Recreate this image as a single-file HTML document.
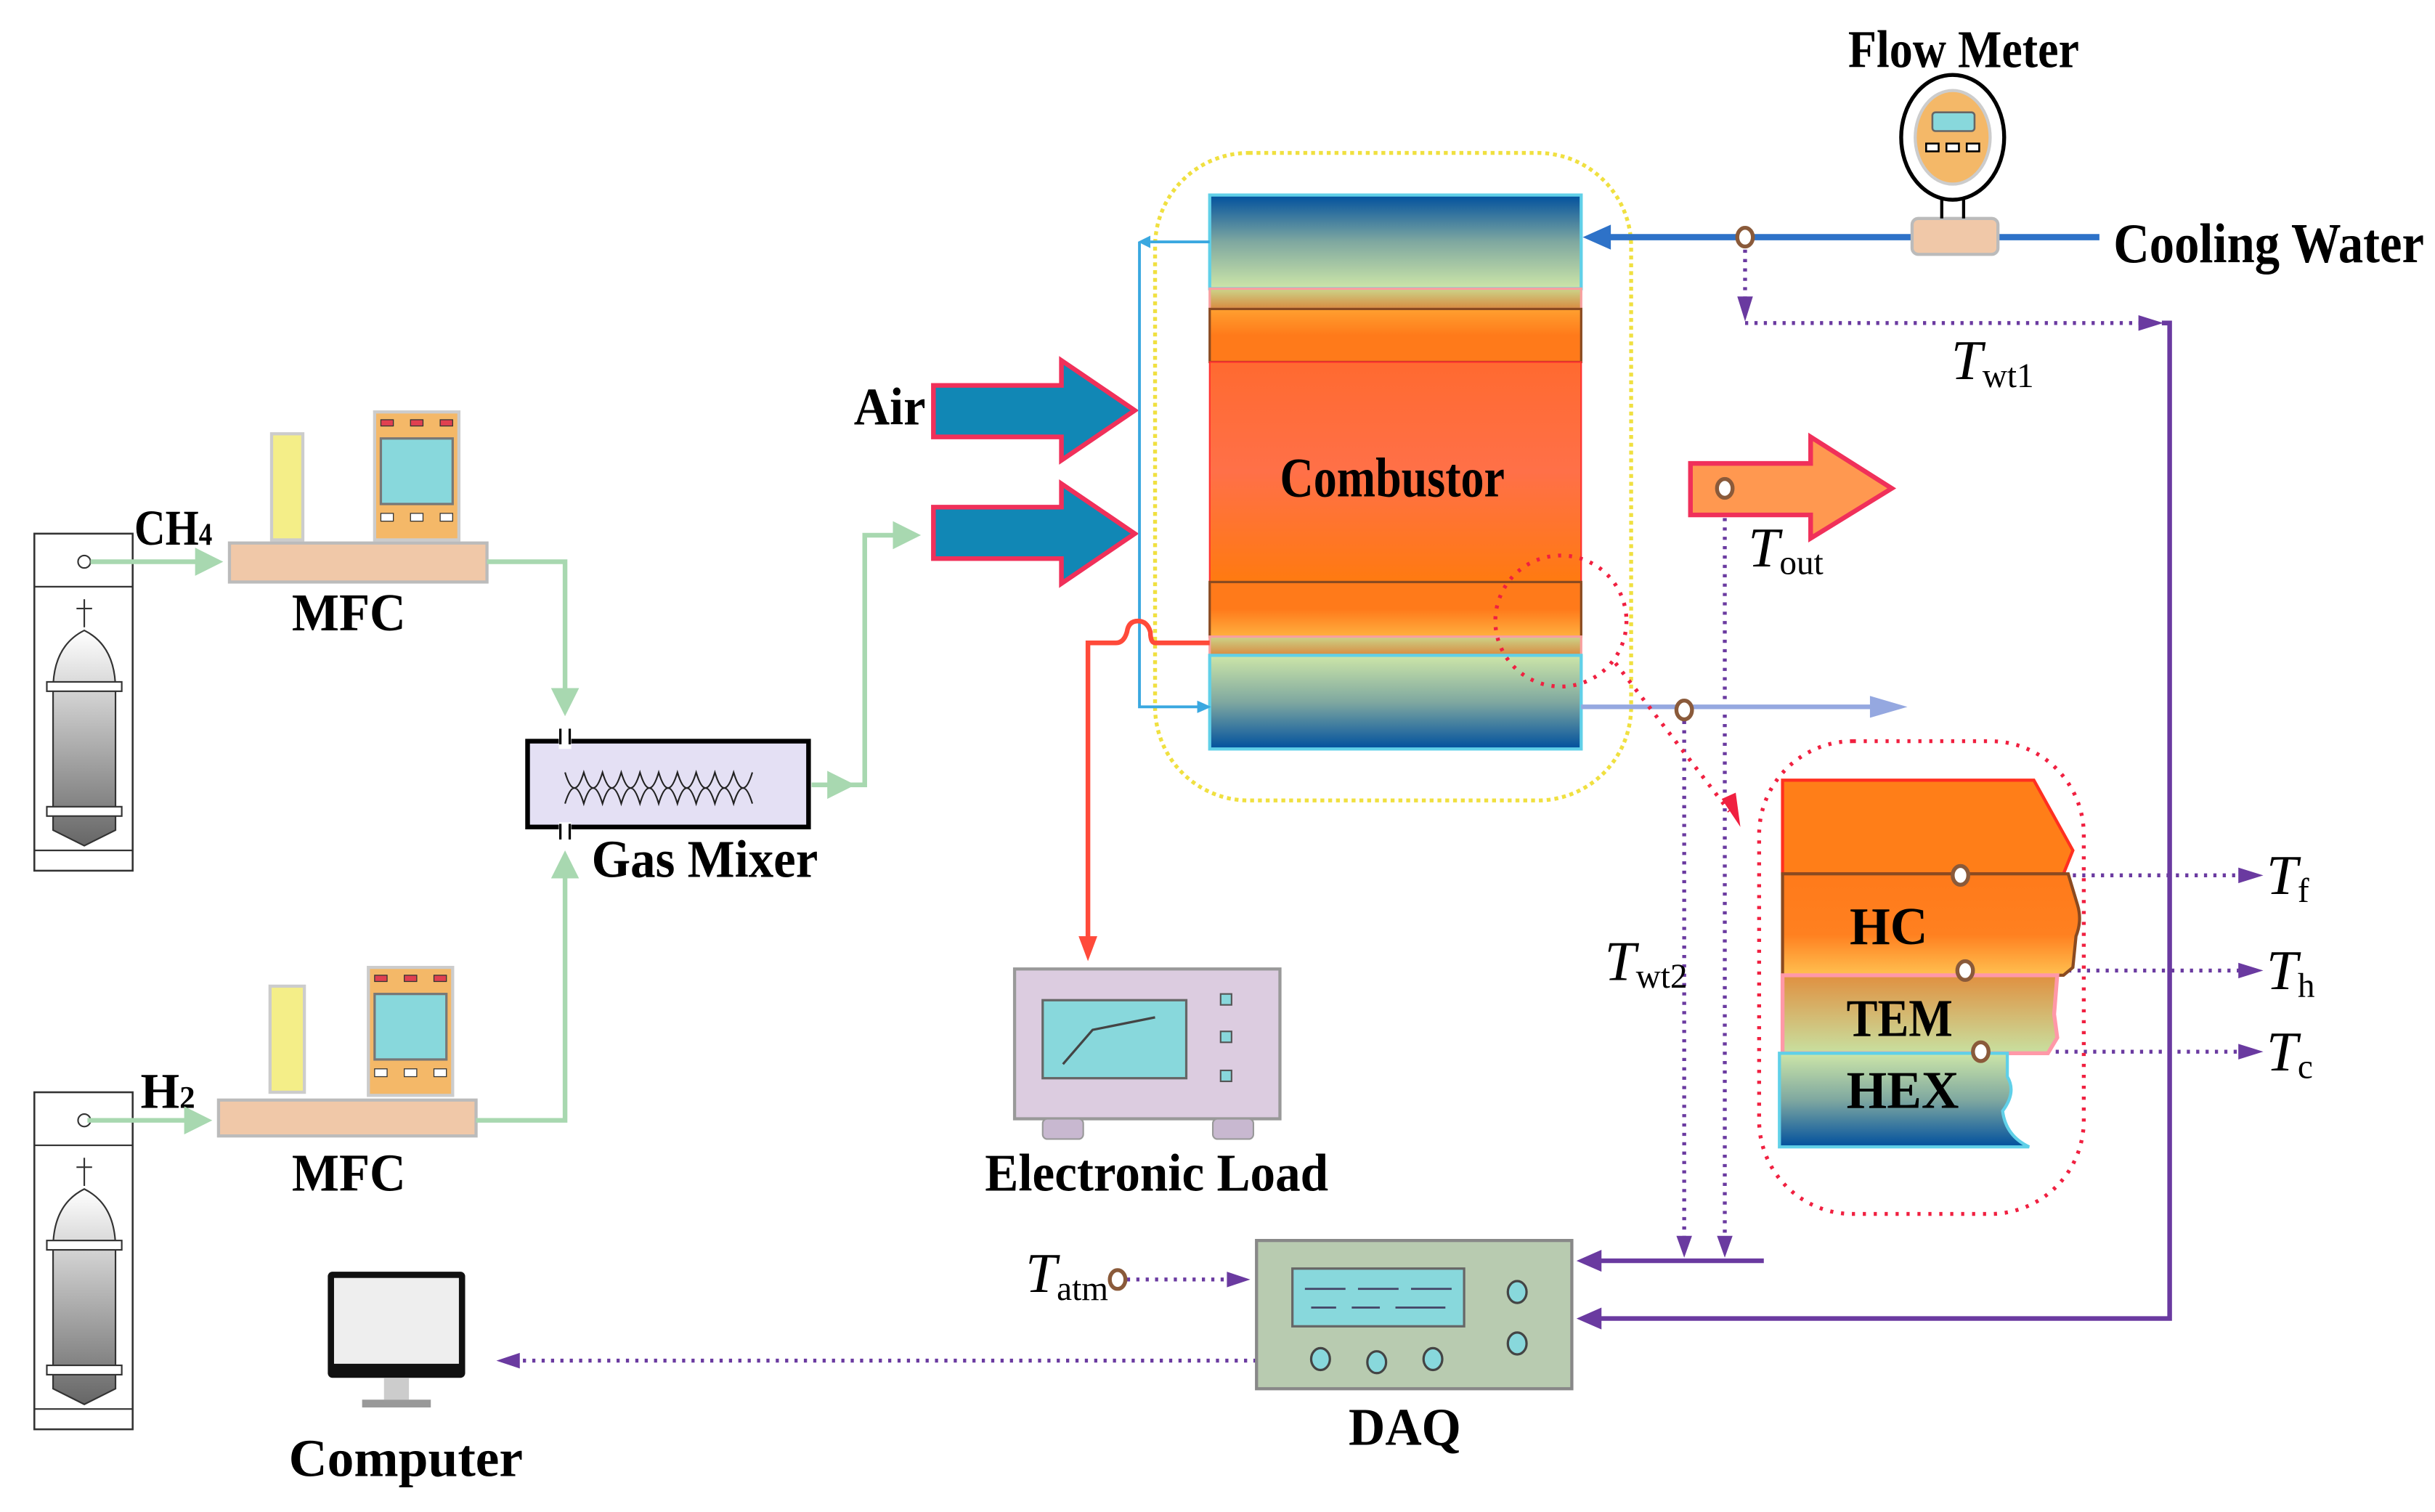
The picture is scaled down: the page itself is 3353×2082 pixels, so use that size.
<!DOCTYPE html>
<html><head><meta charset="utf-8"><style>
html,body{margin:0;padding:0;background:#fff;}
svg{display:block;}
text{font-family:"Liberation Serif",serif;font-weight:bold;fill:#000;}
.it{font-style:italic;font-weight:normal;}
</style></head><body>
<svg width="3353" height="2082" viewBox="0 0 1560 969" preserveAspectRatio="none" xmlns="http://www.w3.org/2000/svg">
<defs>
<linearGradient id="gcyl" x1="0" y1="0" x2="0" y2="1"><stop offset="0" stop-color="#fff"/><stop offset="1" stop-color="#666"/></linearGradient>
<linearGradient id="gtop" x1="0" y1="0" x2="0" y2="1"><stop offset="0" stop-color="#00509e"/><stop offset="0.5" stop-color="#7fa8a0"/><stop offset="1" stop-color="#cde6a8"/></linearGradient>
<linearGradient id="gbot" x1="0" y1="0" x2="0" y2="1"><stop offset="0" stop-color="#cde6a8"/><stop offset="0.5" stop-color="#7fa8a0"/><stop offset="1" stop-color="#00509e"/></linearGradient>
<linearGradient id="gband" x1="0" y1="0" x2="0" y2="1"><stop offset="0" stop-color="#cbd58a"/><stop offset="1" stop-color="#d88a40"/></linearGradient>
<linearGradient id="gor1" x1="0" y1="0" x2="0" y2="1"><stop offset="0" stop-color="#ffa030"/><stop offset="0.5" stop-color="#ff7a1a"/><stop offset="1" stop-color="#ff7a1a"/></linearGradient>
<linearGradient id="gor2" x1="0" y1="0" x2="0" y2="1"><stop offset="0" stop-color="#ff7a1a"/><stop offset="0.5" stop-color="#ff7a1a"/><stop offset="1" stop-color="#ffb040"/></linearGradient>
<linearGradient id="gmain" x1="0" y1="0" x2="0" y2="1"><stop offset="0" stop-color="#ff6a30"/><stop offset="0.5" stop-color="#ff7048"/><stop offset="1" stop-color="#ff7a10"/></linearGradient>
<linearGradient id="ghc" x1="0" y1="0" x2="0" y2="1"><stop offset="0" stop-color="#ff7a1a"/><stop offset="0.6" stop-color="#ff8020"/><stop offset="1" stop-color="#ffc050"/></linearGradient>
<linearGradient id="gtem" x1="0" y1="0" x2="0" y2="1"><stop offset="0" stop-color="#e09040"/><stop offset="1" stop-color="#c8e0a0"/></linearGradient>
<linearGradient id="ghex" x1="0" y1="0" x2="0" y2="1"><stop offset="0" stop-color="#cde6a8"/><stop offset="0.5" stop-color="#7fa8a0"/><stop offset="1" stop-color="#00509e"/></linearGradient>
<marker id="ag" markerWidth="6" markerHeight="6" refX="5" refY="3" orient="auto" markerUnits="strokeWidth"><path d="M0,0 L6,3 L0,6 z" fill="#a8d8b0"/></marker>
<marker id="ap" markerWidth="10" markerHeight="8" refX="9" refY="4" orient="auto" markerUnits="userSpaceOnUse"><path d="M0,0 L14,4 L0,8 z" fill="#6a3aa0"/></marker>
<marker id="aps" markerWidth="6" markerHeight="6" refX="5" refY="3" orient="auto" markerUnits="strokeWidth"><path d="M0,0 L6,3 L0,6 z" fill="#6a3aa0"/></marker>
<g id="cyl">
<rect x="0" y="0" width="63" height="216" fill="#fff" stroke="#333" stroke-width="1.2"/>
<line x1="0" y1="34" x2="63" y2="34" stroke="#333"/>
<line x1="0" y1="203" x2="63" y2="203" stroke="#333"/>
<circle cx="32" cy="18" r="4" fill="#fff" stroke="#333"/>
<path d="M32,42 v18 M27,48 h10" stroke="#333" fill="none"/>
<path d="M12,100 Q12,72 32,62 Q52,72 52,100 V190 L32,200 L12,190 Z" fill="url(#gcyl)" stroke="#333"/>
<rect x="8" y="95" width="48" height="6" fill="#fff" stroke="#333"/>
<rect x="8" y="175" width="48" height="6" fill="#fff" stroke="#333"/>
</g>
<g id="mfcd">
<rect x="0" y="0" width="54" height="82" fill="#f4b868" stroke="#ccc" stroke-width="2"/>
<rect x="4" y="5" width="8" height="4" fill="#e04050" stroke="#333" stroke-width="0.6"/>
<rect x="23" y="5" width="8" height="4" fill="#e04050" stroke="#333" stroke-width="0.6"/>
<rect x="42" y="5" width="8" height="4" fill="#e04050" stroke="#333" stroke-width="0.6"/>
<rect x="4" y="17" width="46" height="42" fill="#88d8dc" stroke="#777" stroke-width="1.5"/>
<rect x="4" y="65" width="8" height="5" fill="#fff" stroke="#333" stroke-width="0.6"/>
<rect x="23" y="65" width="8" height="5" fill="#fff" stroke="#333" stroke-width="0.6"/>
<rect x="42" y="65" width="8" height="5" fill="#fff" stroke="#333" stroke-width="0.6"/>
</g>
</defs>

<!-- cylinders -->
<use href="#cyl" x="22" y="342"/>
<use href="#cyl" x="22" y="700"/>

<!-- MFC 1 -->
<rect x="174" y="278" width="20" height="68" fill="#f4ee88" stroke="#ccc" stroke-width="2"/>
<use href="#mfcd" x="240" y="264"/>
<rect x="147" y="348" width="165" height="25" fill="#f0c8a8" stroke="#bbb" stroke-width="2"/>
<text x="86" y="349" font-size="32" textLength="50" lengthAdjust="spacingAndGlyphs">CH<tspan font-size="20">4</tspan></text>
<text x="187" y="404" font-size="34" textLength="73" lengthAdjust="spacingAndGlyphs">MFC</text>
<!-- MFC 2 -->
<rect x="173" y="632" width="22" height="68" fill="#f4ee88" stroke="#ccc" stroke-width="2"/>
<use href="#mfcd" x="236" y="620"/>
<rect x="140" y="705" width="165" height="23" fill="#f0c8a8" stroke="#bbb" stroke-width="2"/>
<text x="90" y="710" font-size="32" textLength="35" lengthAdjust="spacingAndGlyphs">H<tspan font-size="20">2</tspan></text>
<text x="187" y="763" font-size="34" textLength="73" lengthAdjust="spacingAndGlyphs">MFC</text>

<!-- green lines -->
<g stroke="#a8d8b0" stroke-width="3" fill="none">
<path d="M58,360 H140" marker-end="url(#ag)"/>
<path d="M312,360 H362 V456" marker-end="url(#ag)"/>
<path d="M56,718 H133" marker-end="url(#ag)"/>
<path d="M305,718 H362 V548" marker-end="url(#ag)"/>
<path d="M520,503 H554 V343 H587" marker-end="url(#ag)"/>
<path d="M520,503 H545" marker-end="url(#ag)"/>
</g>
<!-- gas mixer -->
<rect x="338" y="475" width="180" height="55" fill="#e4e0f4" stroke="#000" stroke-width="3"/>
<rect x="358" y="468" width="8" height="12" fill="#fff"/><line x1="359" y1="467" x2="359" y2="477" stroke="#000" stroke-width="1.5"/><line x1="365" y1="467" x2="365" y2="477" stroke="#000" stroke-width="1.5"/>
<rect x="358" y="527" width="8" height="12" fill="#fff"/><line x1="359" y1="528" x2="359" y2="538" stroke="#000" stroke-width="1.5"/><line x1="365" y1="528" x2="365" y2="538" stroke="#000" stroke-width="1.5"/>
<path d="M362,495 q6,20 12,0 q6,20 12,0 q6,20 12,0 q6,20 12,0 q6,20 12,0 q6,20 12,0 q6,20 12,0 q6,20 12,0 q6,20 12,0 q6,20 12,0 M362,515 q6,-20 12,0 q6,-20 12,0 q6,-20 12,0 q6,-20 12,0 q6,-20 12,0 q6,-20 12,0 q6,-20 12,0 q6,-20 12,0 q6,-20 12,0 q6,-20 12,0" stroke="#222" stroke-width="1" fill="none"/>
<text x="379" y="562" font-size="34" textLength="145" lengthAdjust="spacingAndGlyphs">Gas Mixer</text>

<!-- Air -->
<text x="547" y="272" font-size="34" textLength="46" lengthAdjust="spacingAndGlyphs">Air</text>
<path d="M598,247 H680 V231 L727,263 L680,295 V280 H598 Z" fill="#1187b5" stroke="#f0305a" stroke-width="3"/>
<path d="M598,325 H680 V310 L727,342 L680,374 V358 H598 Z" fill="#1187b5" stroke="#f0305a" stroke-width="3"/>

<!-- yellow dotted -->
<rect x="740" y="98" width="305" height="415" rx="60" fill="none" stroke="#f0e040" stroke-width="2.5" stroke-dasharray="2.5 2.5"/>

<!-- combustor -->
<rect x="775" y="125" width="238" height="60" fill="url(#gtop)" stroke="#60d0e8" stroke-width="2"/>
<rect x="775" y="185" width="238" height="13" fill="url(#gband)" stroke="#f8a0a0" stroke-width="1.5"/>
<rect x="775" y="198" width="238" height="34" fill="url(#gor1)" stroke="#8a4a20" stroke-width="1.5"/>
<rect x="775" y="232" width="238" height="141" fill="url(#gmain)" stroke="#ff3030" stroke-width="1"/>
<rect x="775" y="373" width="238" height="35" fill="url(#gor2)" stroke="#8a4a20" stroke-width="1.5"/>
<rect x="775" y="408" width="238" height="12" fill="url(#gband)" stroke="#f8a0a0" stroke-width="1.5"/>
<rect x="775" y="420" width="238" height="60" fill="url(#gbot)" stroke="#60d0e8" stroke-width="2"/>
<text x="820" y="318" font-size="36" textLength="144" lengthAdjust="spacingAndGlyphs">Combustor</text>

<!-- thin blue loop -->
<path d="M775,155 H737 M730,155 V453 H768" stroke="#3aa8e0" stroke-width="1.8" fill="none"/>
<path d="M737,151 L729,155 L737,159 Z" fill="#3aa8e0"/>
<path d="M767,449 L776,453 L767,457 Z" fill="#3aa8e0"/>

<!-- red power line -->
<path d="M775,412 H740 Q737,412 737,405 Q735,398 729,398 Q723,398 722,405 Q720,412 715,412 H697 V604" stroke="#ff4a3a" stroke-width="3" fill="none"/>
<path d="M691,600 L697,616 L703,600 Z" fill="#ff4a3a"/>

<!-- electronic load -->
<rect x="650" y="621" width="170" height="96" fill="#dccce0" stroke="#999" stroke-width="2"/>
<rect x="668" y="641" width="92" height="50" fill="#88d8dc" stroke="#666" stroke-width="1.5"/>
<path d="M681,682 L700,660 L740,652" stroke="#444" stroke-width="1.5" fill="none"/>
<rect x="782" y="637" width="7" height="7" fill="#88d8dc" stroke="#555"/>
<rect x="782" y="661" width="7" height="7" fill="#88d8dc" stroke="#555"/>
<rect x="782" y="686" width="7" height="7" fill="#88d8dc" stroke="#555"/>
<rect x="668" y="717" width="26" height="13" rx="3" fill="#c8b8d0" stroke="#999"/>
<rect x="777" y="717" width="26" height="13" rx="3" fill="#c8b8d0" stroke="#999"/>
<text x="631" y="763" font-size="34" textLength="220" lengthAdjust="spacingAndGlyphs">Electronic Load</text>

<!-- cooling water -->
<path d="M1345,152 H1030" stroke="#2e72c8" stroke-width="4" fill="none"/>
<path d="M1032,144 L1014,152 L1032,160 Z" fill="#2e72c8"/>
<rect x="1225" y="140" width="55" height="23" rx="4" fill="#f0c8a8" stroke="#bbb" stroke-width="2"/>
<path d="M1244,124 V140 M1258,124 V140" stroke="#000" stroke-width="2"/>
<ellipse cx="1251" cy="88" rx="33" ry="40" fill="#fff" stroke="#000" stroke-width="2.5"/>
<ellipse cx="1251" cy="88" rx="24" ry="30" fill="#f4b868" stroke="#ccc" stroke-width="2"/>
<rect x="1238" y="72" width="27" height="12" rx="2" fill="#88d8dc" stroke="#666" stroke-width="1.2"/>
<rect x="1234" y="92" width="8" height="5" fill="#fff" stroke="#000" stroke-width="1.2"/><rect x="1247" y="92" width="8" height="5" fill="#fff" stroke="#000" stroke-width="1.2"/><rect x="1260" y="92" width="8" height="5" fill="#fff" stroke="#000" stroke-width="1.2"/>
<text x="1184" y="43" font-size="34" textLength="148" lengthAdjust="spacingAndGlyphs">Flow Meter</text>
<text x="1354" y="168" font-size="36" textLength="199" lengthAdjust="spacingAndGlyphs">Cooling Water</text>

<!-- purple solid -->
<path d="M1385,207 H1390 V845 H1025" stroke="#6a3aa0" stroke-width="3" fill="none"/>
<path d="M1026,838 L1010,845 L1026,852 Z" fill="#6a3aa0"/>
<path d="M1130,808 H1025" stroke="#6a3aa0" stroke-width="3" fill="none"/>
<path d="M1026,801 L1010,808 L1026,815 Z" fill="#6a3aa0"/>

<!-- dotted purple -->
<g stroke="#6a3aa0" stroke-width="2.5" stroke-dasharray="2 4" fill="none">
<path d="M1118,160 V196"/>
<path d="M1118,207 H1372"/>
<path d="M1105,320 V795"/>
<path d="M1079,462 V795"/>
<path d="M1262,561 H1438"/>
<path d="M1265,622 H1438"/>
<path d="M1275,674 H1438"/>
<path d="M722,820 H788"/>
<path d="M805,872 H332"/>
</g>
<g fill="#6a3aa0">
<path d="M1113,190 L1118,206 L1123,190 Z"/>
<path d="M1370,202 L1386,207 L1370,212 Z"/>
<path d="M1100,792 L1105,806 L1110,792 Z"/>
<path d="M1074,792 L1079,806 L1084,792 Z"/>
<path d="M1434,556 L1450,561 L1434,566 Z"/>
<path d="M1434,617 L1450,622 L1434,627 Z"/>
<path d="M1434,669 L1450,674 L1434,679 Z"/>
<path d="M786,815 L801,820 L786,825 Z"/>
<path d="M333,867 L318,872 L333,877 Z"/>
</g>

<!-- Tout arrow -->
<path d="M1083,297 H1160 V280 L1212,313 L1160,345 V330 H1083 Z" fill="#ff9850" stroke="#f0305a" stroke-width="3"/>
<!-- light blue exit -->
<path d="M1013,453 H1200" stroke="#95a8e0" stroke-width="3"/>
<path d="M1198,446 L1222,453 L1198,460 Z" fill="#95a8e0"/>

<!-- sensor circles -->
<g fill="#fff" stroke="#8a5a3a" stroke-width="2.5">
<ellipse cx="1118" cy="152" rx="5" ry="6"/>
<ellipse cx="1105" cy="313" rx="5" ry="6"/>
<ellipse cx="1079" cy="455" rx="5" ry="6"/>
<ellipse cx="716" cy="820" rx="5" ry="6"/>
</g>

<!-- red dotted -->
<circle cx="1000" cy="398" r="42" fill="none" stroke="#f02040" stroke-width="2.5" stroke-dasharray="2 5"/>
<path d="M1035,425 L1108,520" stroke="#f02040" stroke-width="2.5" stroke-dasharray="2 5"/>
<path d="M1103,512 L1115,530 L1112,508 Z" fill="#f02040"/>
<rect x="1127" y="475" width="208" height="303" rx="60" fill="none" stroke="#f02040" stroke-width="2.5" stroke-dasharray="2 5"/>

<!-- layers -->
<path d="M1142,500 H1303 L1328,545 L1322,560 H1142 Z" fill="#ff7e18" stroke="#ff3020" stroke-width="2"/>
<path d="M1142,560 H1325 L1331,580 Q1334,590 1330,600 L1328,620 L1322,625 H1142 Z" fill="url(#ghc)" stroke="#8a4a20" stroke-width="2"/>
<path d="M1142,625 H1318 L1316,650 L1318,665 L1312,675 H1142 Z" fill="url(#gtem)" stroke="#ff98a8" stroke-width="2.5"/>
<path d="M1140,675 H1286 L1286,690 Q1292,700 1283,712 Q1285,728 1300,735 H1140 Z" fill="url(#ghex)" stroke="#60d0e8" stroke-width="2"/>
<text x="1185" y="605" font-size="34" textLength="50" lengthAdjust="spacingAndGlyphs">HC</text>
<text x="1183" y="664" font-size="34" textLength="68" lengthAdjust="spacingAndGlyphs">TEM</text>
<text x="1183" y="710" font-size="34" textLength="72" lengthAdjust="spacingAndGlyphs">HEX</text>
<g fill="#fff" stroke="#8a5a3a" stroke-width="2.5">
<ellipse cx="1256" cy="561" rx="5" ry="6"/>
<ellipse cx="1259" cy="622" rx="5" ry="6"/>
<ellipse cx="1269" cy="674" rx="5" ry="6"/>
</g>

<!-- T labels -->
<text class="it" x="1250" y="243" font-size="36">T<tspan font-size="22" dy="5" font-style="normal">wt1</tspan></text>
<text class="it" x="1120" y="363" font-size="36">T<tspan font-size="22" dy="5" font-style="normal">out</tspan></text>
<text class="it" x="1028" y="628" font-size="36">T<tspan font-size="22" dy="5" font-style="normal">wt2</tspan></text>
<text class="it" x="1452" y="573" font-size="36">T<tspan font-size="22" dy="5" font-style="normal">f</tspan></text>
<text class="it" x="1452" y="634" font-size="36">T<tspan font-size="22" dy="5" font-style="normal">h</tspan></text>
<text class="it" x="1452" y="686" font-size="36">T<tspan font-size="22" dy="5" font-style="normal">c</tspan></text>
<text class="it" x="657" y="828" font-size="36">T<tspan font-size="22" dy="5" font-style="normal">atm</tspan></text>

<!-- DAQ -->
<rect x="805" y="795" width="202" height="95" fill="#b8cbb0" stroke="#888" stroke-width="2"/>
<rect x="828" y="813" width="110" height="37" fill="#88d8dc" stroke="#666" stroke-width="1.5"/>
<path d="M836,826 H862 M870,826 H896 M904,826 H930 M840,838 H856 M866,838 H884 M894,838 H926" stroke="#446" stroke-width="1.3"/>
<g fill="#88d8dc" stroke="#444" stroke-width="1.5">
<ellipse cx="972" cy="828" rx="6" ry="7"/><ellipse cx="972" cy="861" rx="6" ry="7"/>
<ellipse cx="846" cy="871" rx="6" ry="7"/><ellipse cx="882" cy="873" rx="6" ry="7"/><ellipse cx="918" cy="871" rx="6" ry="7"/>
</g>
<text x="864" y="926" font-size="34" textLength="72" lengthAdjust="spacingAndGlyphs">DAQ</text>

<!-- computer -->
<rect x="210" y="815" width="88" height="68" rx="3" fill="#111"/>
<rect x="214" y="819" width="80" height="55" fill="#eee"/>
<rect x="246" y="883" width="16" height="14" fill="#ccc"/>
<rect x="232" y="897" width="44" height="5" fill="#999"/>
<text x="185" y="946" font-size="34" textLength="150" lengthAdjust="spacingAndGlyphs">Computer</text>
</svg>
</body></html>
